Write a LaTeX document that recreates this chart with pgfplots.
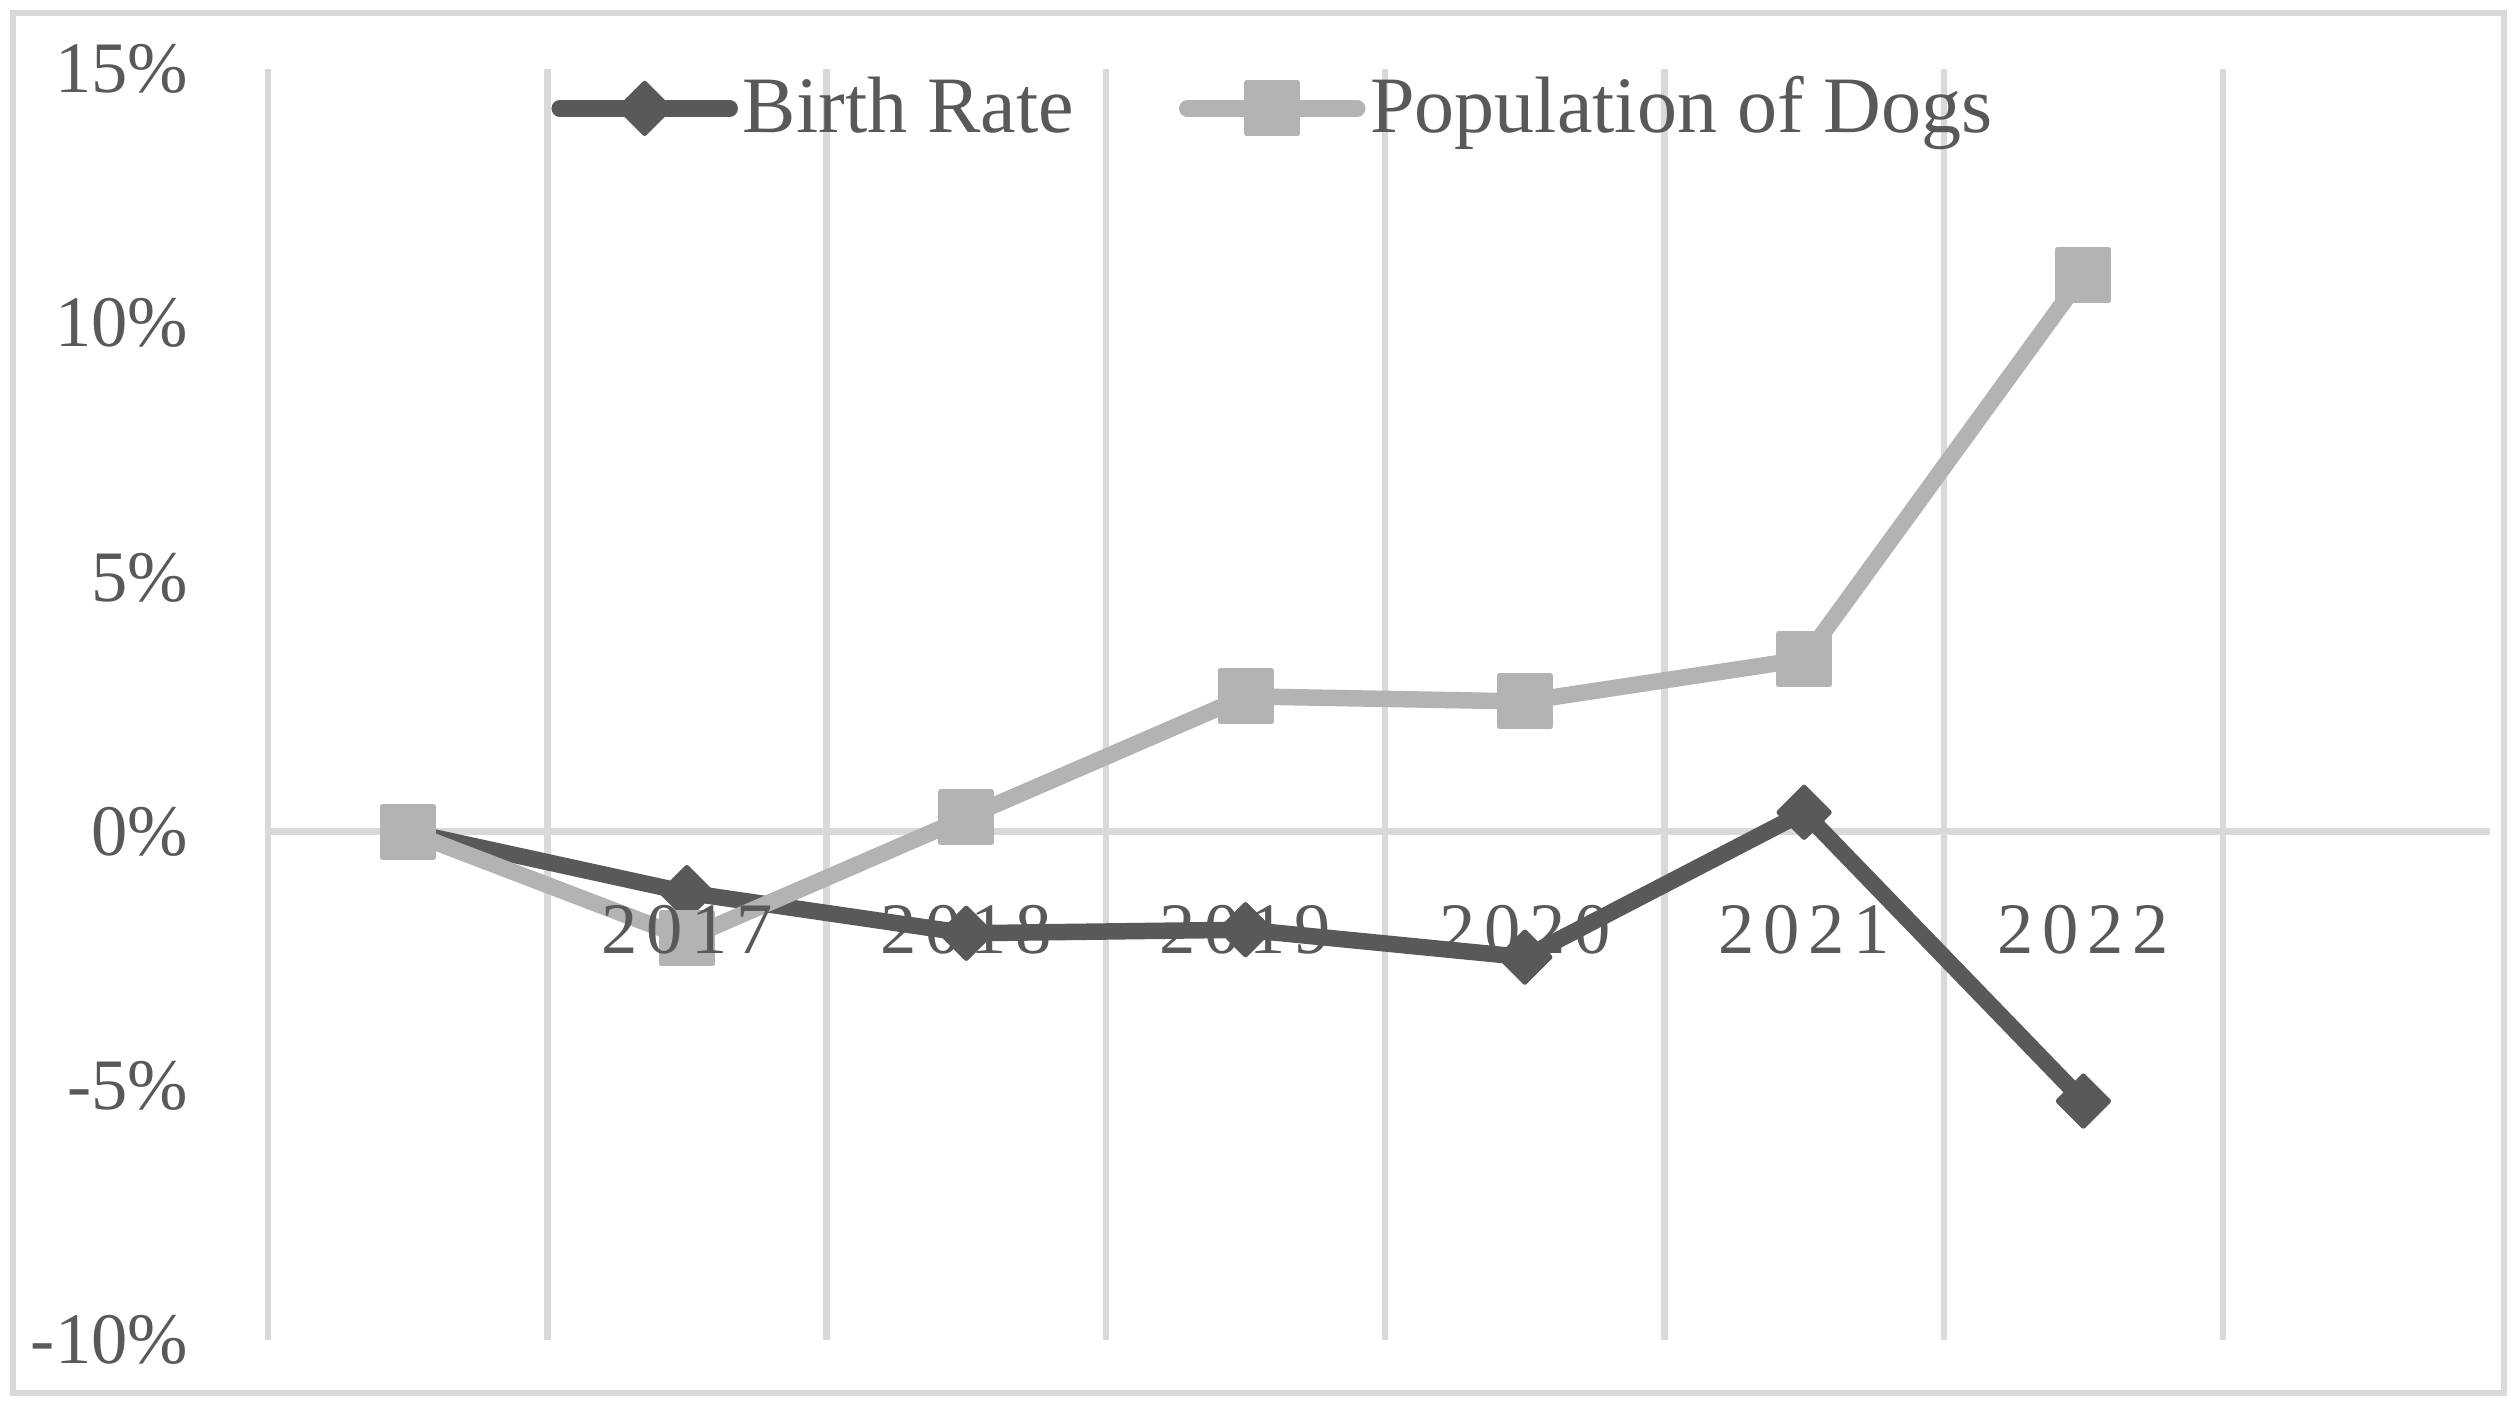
\documentclass[border=0pt]{standalone}
\usepackage{fontspec}
\setmainfont{Liberation Serif}
\newfontfamily\spacedfont[LetterSpace=12]{Liberation Serif}
\usepackage{pgfplots}
\pgfplotsset{compat=1.18}

\definecolor{gridgray}{HTML}{D9D9D9}
\definecolor{textcol}{HTML}{595959}
\definecolor{birthcol}{HTML}{595959}
\definecolor{dogcol}{HTML}{B3B3B3}

% tick labels above the data, as in the original
\pgfplotsset{
    layers/labels on top/.define layer set={
        axis background,axis grid,axis ticks,axis lines,main,
        axis tick labels,axis descriptions,axis foreground}{/pgfplots/layers/standard},
}

\begin{document}
\begin{tikzpicture}
\begin{axis}[
    set layers=labels on top,
    scale only axis,
    width=444.4pt, height=254.2pt,
    xmin=-0.5, xmax=7.456,
    ymin=-10, ymax=15,
    clip=false,
    axis x line=middle,
    axis y line=left,
    x axis line style={-, draw=gridgray, line width=1.3pt},
    y axis line style={-, draw=gridgray, line width=1.3pt},
    xtick={1,2,3,4,5,6},
    xticklabels={2017,2018,2019,2020,2021,2022},
    minor xtick={-0.5,0.5,1.5,2.5,3.5,4.5,5.5,6.5},
    xminorgrids=true,
    minor grid style={draw=gridgray, line width=1.3pt},
    ytick={-10,-5,0,5,10,15},
    yticklabels={-10\%,-5\%,0\%,5\%,10\%,15\%},
    major tick length=0pt, minor tick length=0pt,
    tick style={draw=none},
    tick label style={text=textcol},
    xticklabel style={anchor=north, inner sep=0pt, yshift=-14.5pt,
        font=\spacedfont\fontsize{14.5}{16}\selectfont},
    yticklabel style={anchor=east, inner sep=0pt, xshift=-15.8pt,
        font=\fontsize{14.5}{16}\selectfont},
    legend style={at={(0.453,0.969)}, anchor=center, draw=none, fill=none,
        font=\fontsize{16}{18}\selectfont, text=textcol,
        /tikz/every even column/.append style={column sep=20pt},
        nodes={inner sep=1pt}},
    legend columns=2,
    legend cell align=left,
    legend image code/.code={
        \draw[mark repeat=2, mark phase=2, line cap=round, #1]
            plot coordinates {(0pt,0pt) (17pt,0pt) (34pt,0pt)};},
]
\addplot[color=birthcol, line width=3.3pt, line join=round,
    mark=square*, mark size=3.55pt,
    mark options={solid, rotate=45, fill=birthcol, line width=1pt, line join=round}]
    coordinates {(0,0) (1,-1.2) (2,-2.0) (3,-1.93) (4,-2.47) (5,0.38) (6,-5.3)};
\addlegendentry{Birth Rate}

\addplot[color=dogcol, line width=3.3pt, line join=round,
    mark=square*, mark size=5.1pt,
    mark options={solid, fill=dogcol, line width=1pt, line join=round}]
    coordinates {(0,0) (1,-2.1) (2,0.28) (3,2.66) (4,2.56) (5,3.39) (6,10.95)};
\addlegendentry{Population of Dogs}
\end{axis}
% outer chart frame and page size
\draw[gridgray, line width=1.3pt] (-51pt,-10.6pt) rectangle (447.2pt,265.4pt);
\path (-53.6pt,-13.2pt) rectangle (449.8pt,268pt);
\end{tikzpicture}
\end{document}
